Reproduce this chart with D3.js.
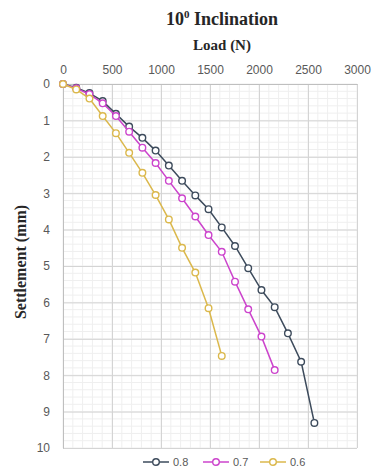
<!DOCTYPE html>
<html><head><meta charset="utf-8">
<script src="https://cdn.jsdelivr.net/npm/d3@7"></script>
<style>body{margin:0;background:#fff}svg{display:block}</style>
</head><body>
<svg id="c" width="374" height="475"></svg>
<script>
const loads08 = [0,135,270,405,540,675,810,945,1080,1215,1350,1485,1620,1755,1890,2025,2160,2295,2430,2565];
const settle08 = [0,0.10,0.25,0.47,0.82,1.17,1.48,1.83,2.24,2.66,3.06,3.44,3.94,4.45,5.06,5.66,6.13,6.85,7.63,9.31];
const loads07 = [0,135,270,405,540,675,810,945,1080,1215,1350,1485,1620,1755,1890,2025,2160];
const settle07 = [0,0.12,0.28,0.53,0.88,1.31,1.75,2.17,2.66,3.14,3.64,4.15,4.61,5.43,6.19,6.94,7.86];
const loads06 = [0,135,270,405,540,675,810,945,1080,1215,1350,1485,1620];
const settle06 = [0,0.15,0.40,0.88,1.35,1.89,2.44,3.05,3.72,4.50,5.18,6.16,7.47];
const seriesNames = ["0.8","0.7","0.6"];
const seriesColors = ["#3d4b5c","#cc44cc","#dbb84c"];
const xTicks = [0,500,1000,1500,2000,2500,3000];
const yTicks = [0,1,2,3,4,5,6,7,8,9,10];

const series = [
  {name:seriesNames[0], color:seriesColors[0], pts:loads08.map((l,i)=>[l,settle08[i]])},
  {name:seriesNames[1], color:seriesColors[1], pts:loads07.map((l,i)=>[l,settle07[i]])},
  {name:seriesNames[2], color:seriesColors[2], pts:loads06.map((l,i)=>[l,settle06[i]])}
];

const svg = d3.select("#c");
const x = d3.scaleLinear().domain([0,3000]).range([63,357]);
const y = d3.scaleLinear().domain([0,10]).range([84,448]);

// minor grid
const g = svg.append("g");
g.selectAll(".mx").data(d3.range(0,3001,100)).join("line")
  .attr("x1",d=>x(d)).attr("x2",d=>x(d)).attr("y1",y(0)).attr("y2",y(10))
  .attr("stroke","#efefef").attr("stroke-width",1);
g.selectAll(".my").data(d3.range(0,10.01,0.2)).join("line")
  .attr("y1",d=>y(d)).attr("y2",d=>y(d)).attr("x1",x(0)).attr("x2",x(3000))
  .attr("stroke","#efefef").attr("stroke-width",1);
// major grid
g.selectAll(".Mx").data(xTicks).join("line")
  .attr("x1",d=>x(d)+0.5).attr("x2",d=>x(d)+0.5).attr("y1",y(0)).attr("y2",y(10))
  .attr("stroke","#d4d4d4").attr("stroke-width",1);
g.selectAll(".My").data(yTicks).join("line")
  .attr("y1",d=>y(d)+0.5).attr("y2",d=>y(d)+0.5).attr("x1",x(0)).attr("x2",x(3000))
  .attr("stroke","#d4d4d4").attr("stroke-width",1);

// axes
const xa = svg.append("g").attr("transform",`translate(0,${y(0)})`)
  .call(d3.axisTop(x).tickValues(xTicks).tickSize(0).tickPadding(10).tickFormat(d3.format("d")));
const ya = svg.append("g").attr("transform",`translate(${x(0)},0)`)
  .call(d3.axisLeft(y).tickValues(yTicks).tickSize(0).tickPadding(13).tickFormat(d3.format("d")));
[xa,ya].forEach(a=>{
  a.select(".domain").attr("stroke","#bfbfbf");
  a.selectAll("text").attr("font-family","Liberation Sans, Arial, sans-serif")
   .attr("font-size","12px").attr("fill","#595959");
});

// series
const line = d3.line().x(d=>x(d[0])).y(d=>y(d[1]));
series.forEach(s=>{
  svg.append("path").attr("d",line(s.pts)).attr("fill","none")
    .attr("stroke",s.color).attr("stroke-width",1.5);
  svg.append("g").selectAll("circle").data(s.pts).join("circle")
    .attr("cx",d=>x(d[0])).attr("cy",d=>y(d[1])).attr("r",3.3)
    .attr("fill","#fff").attr("stroke",s.color).attr("stroke-width",1.4);
});

// titles
const title = svg.append("text").attr("x",222).attr("y",25).attr("text-anchor","middle")
  .attr("font-family","Liberation Serif, Times New Roman, serif").attr("font-weight","bold")
  .attr("font-size","18px").attr("fill","#262626");
title.append("tspan").text("10");
title.append("tspan").attr("dy",-7).attr("font-size","11px").text("0");
title.append("tspan").attr("dy",7).text(" Inclination");

svg.append("text").attr("x",222).attr("y",50).attr("text-anchor","middle")
  .attr("font-family","Liberation Serif, Times New Roman, serif").attr("font-weight","bold")
  .attr("font-size","15px").attr("fill","#262626").text("Load (N)");

svg.append("text").attr("transform","translate(26,262) rotate(-90)").attr("text-anchor","middle")
  .attr("font-family","Liberation Serif, Times New Roman, serif").attr("font-weight","bold")
  .attr("font-size","16px").attr("fill","#262626").text("Settlement (mm)");

// legend
const legX = [143,203,260];
series.forEach((s,i)=>{
  const lg = svg.append("g").attr("transform",`translate(${legX[i]},462)`);
  lg.append("line").attr("x1",0).attr("x2",26).attr("y1",0).attr("y2",0)
    .attr("stroke",s.color).attr("stroke-width",1.5);
  lg.append("circle").attr("cx",13).attr("cy",0).attr("r",3.3)
    .attr("fill","#fff").attr("stroke",s.color).attr("stroke-width",1.4);
  lg.append("text").attr("x",30).attr("y",4).attr("font-family","Liberation Sans, Arial, sans-serif")
    .attr("font-size","11px").attr("fill","#595959").text(s.name);
});
</script>
</body></html>
